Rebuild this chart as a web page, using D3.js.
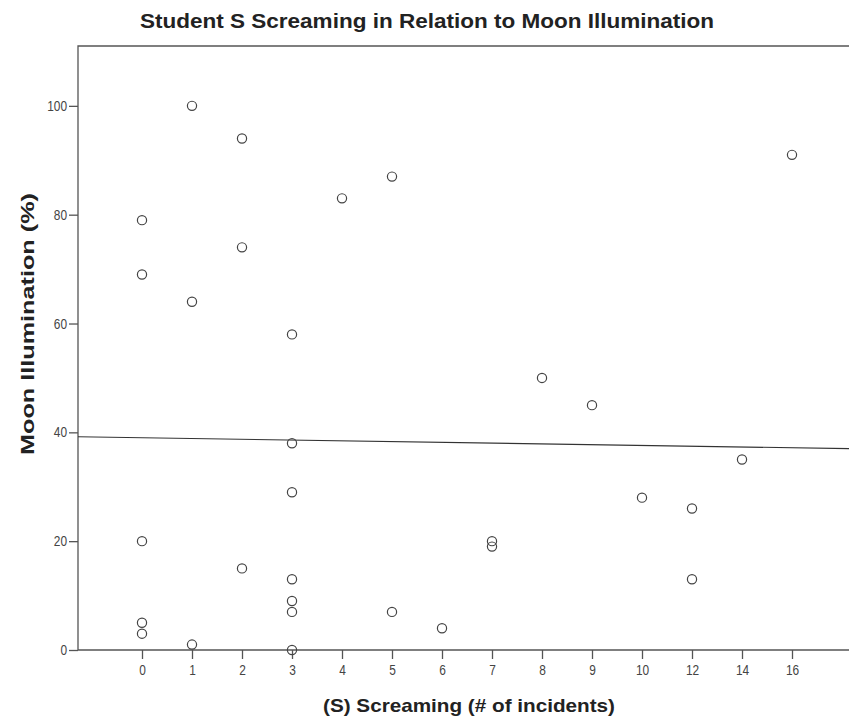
<!DOCTYPE html>
<html>
<head>
<meta charset="utf-8">
<script src="https://cdn.jsdelivr.net/npm/d3@7/dist/d3.min.js"></script>
<style>
  html, body { margin: 0; padding: 0; background: #fff; }
  svg { display: block; }
  text { font-family: "Liberation Sans Narrow", "Liberation Sans", Arial, sans-serif; }
</style>
</head>
<body>
<svg id="chart" width="849" height="721"></svg>
<script>
// x categories as shown on the axis (equally spaced)
const categories = ["0", "1", "2", "3", "4", "5", "6", "7", "8", "9", "10", "12", "14", "16"];

// observations: screaming incidents (category) and moon illumination (%)
const screaming = ["0", "0", "0", "0", "0",
                   "1", "1", "1",
                   "2", "2", "2",
                   "3", "3", "3", "3", "3", "3", "3",
                   "4",
                   "5", "5",
                   "6",
                   "7", "7",
                   "8", "9", "10",
                   "12", "12",
                   "14", "16"];
const illumination = [79, 69, 20, 5, 3,
                      100, 64, 1,
                      94, 74, 15,
                      58, 38, 29, 13, 9, 7, 0,
                      83,
                      87, 7,
                      4,
                      20, 19,
                      50, 45, 28,
                      26, 13,
                      35, 91];

const yTicks = [0, 20, 40, 60, 80, 100];

// fit line values at the left and right edges of the plot
const fitLine = [39.2, 37.0];

(function draw() {
  const svg = d3.select("#chart");
  const mLeft = 78, mTop = 46, mBottom = 650, mRight = 860;

  const x = d3.scalePoint().domain(categories).range([142, 792]);
  const y = d3.scaleLinear().domain([0, 111]).range([mBottom, mTop]);

  const axisColor = "#555";

  // plot frame (left, top, bottom)
  svg.append("path")
    .attr("d", `M${mRight},${mTop}H${mLeft}V${mBottom}H${mRight}`)
    .attr("fill", "none")
    .attr("stroke", axisColor)
    .attr("stroke-width", 1.3);

  // y axis
  const yAxis = svg.append("g")
    .attr("transform", `translate(${mLeft},0)`)
    .call(d3.axisLeft(y).tickValues(yTicks).tickSize(9).tickPadding(2).tickFormat(d3.format("d")));
  yAxis.select(".domain").remove();
  yAxis.selectAll("line").attr("stroke", axisColor).attr("stroke-width", 1.3);
  yAxis.selectAll("text").attr("fill", "#444").style("font-size", "14px")
    .attr("transform", function () { return "scale(0.85,1)"; })
    .attr("x", -11 / 0.85);

  // x axis
  const xAxis = svg.append("g")
    .attr("transform", `translate(0,${mBottom})`)
    .call(d3.axisBottom(x).tickSize(9).tickPadding(6));
  xAxis.select(".domain").remove();
  xAxis.selectAll("line").attr("stroke", axisColor).attr("stroke-width", 1.3);
  xAxis.selectAll("text").attr("fill", "#444").style("font-size", "14px")
    .attr("transform", "scale(0.85,1)");

  // fit line across the plot
  svg.append("line")
    .attr("x1", mLeft).attr("x2", mRight)
    .attr("y1", y(fitLine[0]))
    .attr("y2", y(fitLine[0] + (fitLine[1] - fitLine[0]) * (mRight - mLeft) / (849 - mLeft)))
    .attr("stroke", "#333")
    .attr("stroke-width", 1.1);

  // data points
  svg.append("g")
    .selectAll("circle")
    .data(d3.range(illumination.length))
    .join("circle")
    .attr("cx", i => x(screaming[i]))
    .attr("cy", i => y(illumination[i]))
    .attr("r", 4.6)
    .attr("fill", "none")
    .attr("stroke", "#444")
    .attr("stroke-width", 1.2);

  // title
  svg.append("text")
    .attr("x", 427).attr("y", 28)
    .attr("text-anchor", "middle")
    .attr("textLength", 574)
    .attr("lengthAdjust", "spacingAndGlyphs")
    .style("font-size", "21px")
    .style("font-weight", "bold")
    .attr("fill", "#222")
    .text("Student S Screaming in Relation to Moon Illumination");

  // x axis title
  svg.append("text")
    .attr("x", 469).attr("y", 712)
    .attr("text-anchor", "middle")
    .attr("textLength", 292)
    .attr("lengthAdjust", "spacingAndGlyphs")
    .style("font-size", "19px")
    .style("font-weight", "bold")
    .attr("fill", "#222")
    .text("(S) Screaming (# of incidents)");

  // y axis title
  svg.append("text")
    .attr("transform", "translate(34,324) rotate(-90)")
    .attr("text-anchor", "middle")
    .attr("textLength", 262)
    .attr("lengthAdjust", "spacingAndGlyphs")
    .style("font-size", "19px")
    .style("font-weight", "bold")
    .attr("fill", "#222")
    .text("Moon Illumination (%)");
})();
</script>
</body>
</html>
